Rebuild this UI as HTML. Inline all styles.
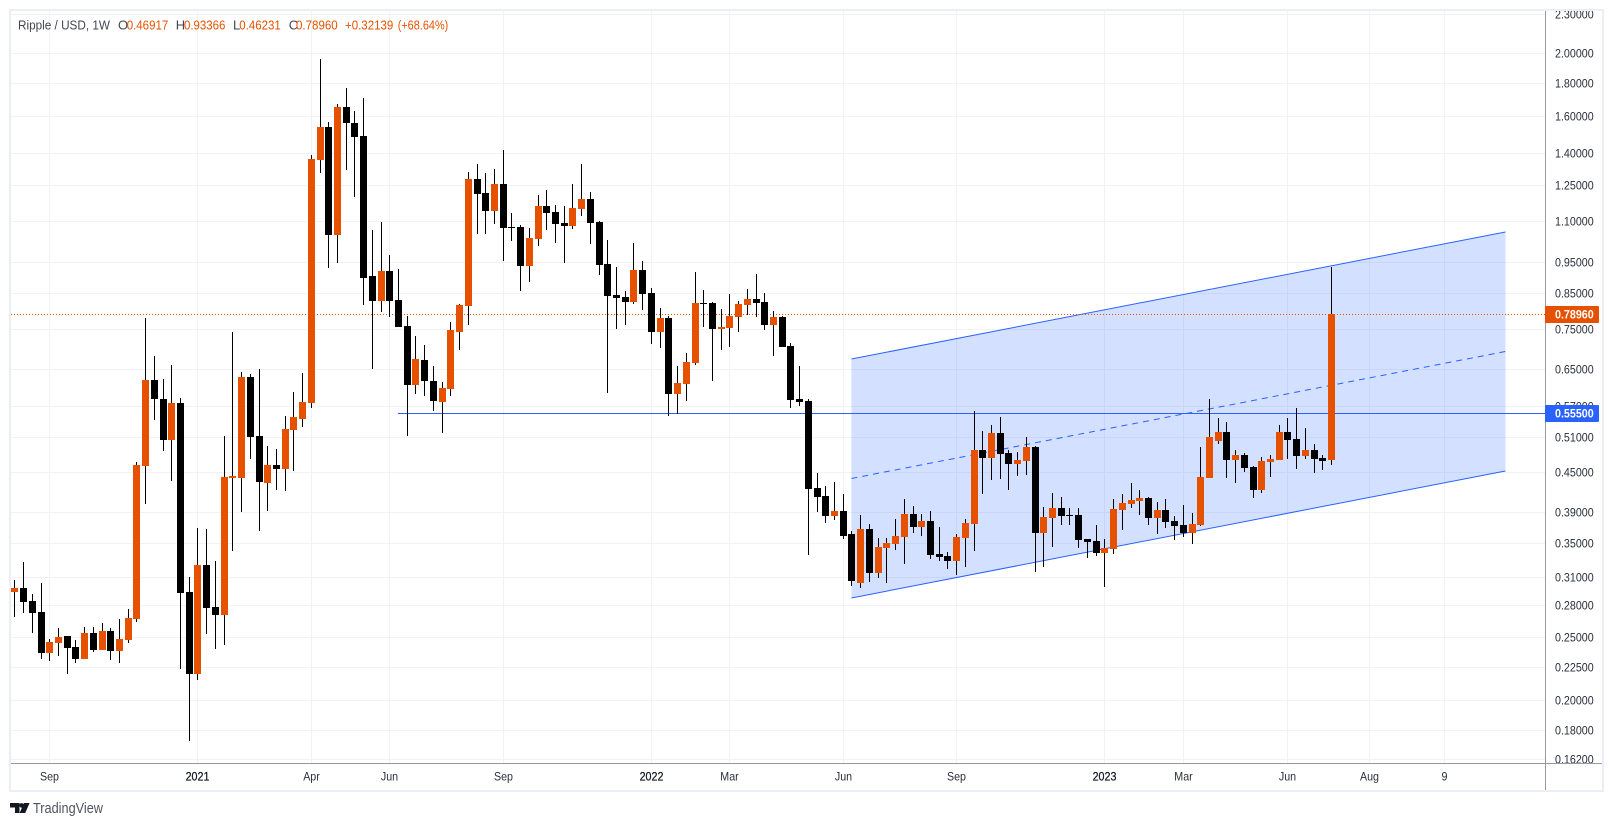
<!DOCTYPE html>
<html lang="en">
<head>
<meta charset="utf-8">
<title>Ripple / USD, 1W</title>
<style>
html,body{margin:0;padding:0;background:#fff;width:1613px;height:826px;overflow:hidden}
svg{display:block;font-family:"Liberation Sans",sans-serif}
</style>
</head>
<body>
<svg id="chart" width="1613" height="826" viewBox="0 0 1613 826" xmlns="http://www.w3.org/2000/svg">
  <defs>
    <clipPath id="plot-clip"><rect x="11" y="11" width="1534" height="752"/></clipPath>
    <clipPath id="axis-clip"><rect x="1546" y="11" width="56" height="752"/></clipPath>
  </defs>
  <rect x="10" y="10" width="1593" height="781" fill="#fff" stroke="#eceef5" stroke-width="2"/>
  <g id="grid" clip-path="url(#plot-clip)" shape-rendering="crispEdges"></g>
  <g id="drawings" clip-path="url(#plot-clip)"></g>
  <g id="candles" clip-path="url(#plot-clip)" shape-rendering="crispEdges"></g>
  <g id="price-labels" clip-path="url(#axis-clip)"></g>
  <g id="time-labels"></g>
  <rect x="1545" y="11" width="1" height="779" fill="#9598a1" shape-rendering="crispEdges"/>
  <rect x="11" y="763" width="1591" height="1" fill="#9598a1" shape-rendering="crispEdges"/>
  <g id="badges"></g>

  <g font-size="13">
    <text x="18" y="29.5" fill="#434651" textLength="92" lengthAdjust="spacingAndGlyphs">Ripple / USD, 1W</text>
    <text x="118" y="29.5" fill="#434651">O</text>
    <text x="126.7" y="29.5" fill="#e65100" textLength="41.6" lengthAdjust="spacingAndGlyphs">0.46917</text>
    <text x="175.7" y="29.5" fill="#434651">H</text>
    <text x="184" y="29.5" fill="#e65100" textLength="41.4" lengthAdjust="spacingAndGlyphs">0.93366</text>
    <text x="233" y="29.5" fill="#434651">L</text>
    <text x="239.3" y="29.5" fill="#e65100" textLength="41.4" lengthAdjust="spacingAndGlyphs">0.46231</text>
    <text x="288.7" y="29.5" fill="#434651">C</text>
    <text x="296" y="29.5" fill="#e65100" textLength="41.7" lengthAdjust="spacingAndGlyphs">0.78960</text>
    <text x="345" y="29.5" fill="#e65100" textLength="48.3" lengthAdjust="spacingAndGlyphs">+0.32139</text>
    <text x="397.7" y="29.5" fill="#e65100" textLength="50.6" lengthAdjust="spacingAndGlyphs">(+68.64%)</text>
  </g>

  <g>
    <path fill="#131722" d="M10 803h9.5v10h-4.5v-5.5h-5z M24 803h5.6l-4.4 10h-5.6z"/>
    <circle cx="21.6" cy="805.4" r="2.3" fill="#131722"/>
    <text x="33" y="813" font-size="15" fill="#50535e" textLength="70" lengthAdjust="spacingAndGlyphs">TradingView</text>
  </g>
</svg>

<script>
const opens = [
  .2939,.2981,.2846,.2737,.2366,.2451,.2513,.2417,.2315,.2540,
  .2391,.2558,.2383,.2477,.2670,.4600,.6247,.5839,.5046,.5756,
  .2939,.2195,.3235,.2786,.2708,.4408,.4408,.6315,.5118,.4331,
  .4617,.4551,.5229,.5438,.5756,1.3667,1.5370,1.0466,1.6504,1.5591,
  1.4885,.9045,.8275,.9207,.8305,.7571,.6137,.6708,.6225,.5777,
  .6051,.7411,.8129,1.2773,1.2153,1.1399,1.2547,1.0769,1.0769,.9373,
  1.0318,1.1603,1.1359,1.0923,1.0807,1.1481,1.1896,1.0962,.9439,.8453,
  .8393,.8246,.9240,.8513,.7411,.7789,.5944,.6159,.6637,.8217,
  .8217,.7491,.7518,.7817,.8158,.8334,.8246,.7598,.7817,.7051,
  .5839,.5797,.4254,.4135,.3851,.3920,.3612,.3035,.3677,.3144,
  .3437,.3486,.3574,.3878,.3703,.3783,.3364,.3340,.3281,.3561,
  .3743,.4870,.4733,.5173,.4818,.4633,.4683,.4922,.3625,.3824,
  .3962,.3865,.3865,.3549,.3523,.3376,.3425,.3934,.4019,.4062,
  .4106,.3824,.3934,.3783,.3729,.3625,.3729,.4408,.5028,.5192,
  .4700,.4784,.4584,.4224,.4666,.4700,.5192,.5064,.4767,.4870,
  .4733,.46917
];
const highs = [
  .3067,.3270,.2918,.3035,.2486,.2585,.2513,.2477,.2594,.2594,
  .2632,.2585,.2670,.2766,.4666,.7789,.6804,.6270,.6590,.5860,
  .3100,.3690,.3677,.3281,.5118,.7411,.6428,.6383,.6497,.4939,
  .4887,.5496,.5986,.6405,1.3912,1.9577,1.5646,1.6681,1.7658,1.6271,
  1.7041,1.0654,1.0962,.9746,.9273,.7845,.7307,.7076,.6567,.6203,
  .7679,.8187,1.3095,1.3473,1.3049,1.3236,1.4162,1.1319,1.0845,1.0731,
  1.2067,1.2283,1.1644,1.1603,1.2547,1.3473,1.2196,1.1001,1.0281,.9340,
  .8574,1.0172,.9541,.8666,.8072,.7845,.6567,.6877,.9174,.8605,
  .8246,.8043,.8483,.8275,.8635,.9110,.8513,.7985,.7845,.7127,
  .6567,.5839,.4487,.4285,.4346,.4165,.3651,.3865,.3743,.3561,
  .3561,.3810,.4091,.3991,.3878,.3920,.3703,.3388,.3612,.3810,
  .5595,.5210,.5323,.5477,.4870,.4835,.5100,.4939,.3977,.4180,
  .4121,.3962,.3962,.3549,.3729,.3549,.4091,.4165,.4331,.4224,
  .4121,.4048,.4091,.3851,.4005,.3892,.4922,.5839,.5457,.5380,
  .4870,.4818,.4600,.4750,.4784,.5323,.5457,.5655,.5267,.4974,
  .4784,.93366
];
const lows = [
  .2689,.2727,.2540,.2315,.2299,.2341,.2195,.2283,.2315,.2374,
  .2391,.2307,.2283,.2451,.2641,.4019,.5418,.4853,.4361,.2234,
  .1729,.2148,.2531,.2400,.2434,.3400,.3906,.4717,.3651,.3920,
  .4224,.4209,.4519,.5285,.5655,1.3049,.9306,.9473,1.3189,1.1982,
  .8158,.6497,.7957,.7817,.7544,.5118,.5944,.5902,.5595,.5173,
  .5902,.6951,.7598,1.0503,1.0503,1.0884,.9541,1.0245,.8574,.8854,
  1.0064,1.0654,1.0172,.9473,1.0693,1.1200,1.0136,.9077,.5965,.7491,
  .7598,.8187,.8014,.7101,.7001,.5496,.5535,.5797,.6590,.7544,
  .6225,.6951,.7026,.7411,.7873,.7817,.7464,.6804,.7026,.5655,
  .5695,.3352,.3906,.3756,.3796,.3549,.3002,.2981,.3045,.3089,
  .3035,.3412,.3247,.3625,.3587,.3305,.3281,.3189,.3122,.3212,
  .3400,.4165,.4377,.4393,.4224,.4440,.4455,.3156,.3212,.3449,
  .3729,.3729,.3437,.3317,.3340,.2992,.3364,.3664,.3962,.3865,
  .3729,.3612,.3690,.3536,.3574,.3486,.3716,.4408,.4974,.4408,
  .4331,.4503,.4106,.4180,.4424,.4700,.4717,.4551,.4717,.4487,
  .4535,.46231
];
const closes = [
  .2981,.2836,.2727,.2366,.2460,.2504,.2408,.2315,.2540,.2391,
  .2558,.2383,.2486,.2679,.4617,.6247,.5839,.5046,.5756,.2929,
  .2195,.3235,.2776,.2708,.4424,.4440,.6315,.5100,.4346,.4617,
  .4551,.5248,.5477,.5777,1.3716,1.5370,1.0466,1.6504,1.5591,1.4832,
  .8981,.8275,.9207,.8275,.7544,.6137,.6732,.6225,.5797,.6072,
  .7464,.8158,1.2773,1.2110,1.1399,1.2547,1.0731,1.0731,.9373,1.0355,
  1.1603,1.1319,1.0884,1.0807,1.1521,1.1896,1.0923,.9406,.8423,.8364,
  .8246,.9240,.8483,.7411,.7789,.5944,.6181,.6661,.8217,.8187,
  .7491,.7544,.7845,.8187,.8334,.8217,.7598,.7817,.7026,.5818,
  .5777,.4239,.4121,.3851,.3920,.3587,.3056,.3677,.3144,.3449,
  .3499,.3587,.3878,.3703,.3783,.3352,.3329,.3281,.3574,.3756,
  .4870,.4733,.5173,.4801,.4633,.4700,.4922,.3625,.3837,.3962,
  .3851,.3851,.3536,.3511,.3376,.3437,.3948,.4033,.4076,.4106,
  .3824,.3934,.3769,.3716,.3625,.3743,.4424,.5100,.5192,.4700,
  .4784,.4567,.4224,.4683,.4717,.5192,.5046,.4767,.4870,.4717,
  .4682,.78960
];
const priceTicks = [2.3,2.0,1.8,1.6,1.4,1.25,1.1,0.95,0.85,0.75,0.65,0.57,0.51,0.45,0.39,0.35,0.31,0.28,0.25,0.225,0.2,0.18,0.162];
const timeTickLabels = ['Sep','2021','Apr','Jun','Sep','2022','Mar','Jun','Sep','2023','Mar','Jun','Aug','9'];
const timeTickBars = [4,21,34,43,56,73,82,95,108,125,134,146,155.3,164];
const channelBars = [96,171];
const channelUpper = [0.6732,1.0578];
const channelLower = [0.2876,0.4519];
const levelBar = 44;
const levelPrice = 0.555;
const lastPrice = 0.7896;

const NS = 'http://www.w3.org/2000/svg';
const UP = '#e65100';
const DOWN = '#000000';
const BLUE = '#2962ff';
const TEXT_SQUEEZE = 0.89;

function yScale(p){ return 53 + 281 * Math.log(2 / p); }
function xScale(i){ return 14.35 + 8.72 * i; }
function make(tag, parent, attrs){
  const el = document.createElementNS(NS, tag);
  for (const k in attrs) el.setAttribute(k, attrs[k]);
  parent.appendChild(el);
  return el;
}
function squeeze(el){
  el.setAttribute('textLength', (el.getComputedTextLength() * TEXT_SQUEEZE).toFixed(1));
  el.setAttribute('lengthAdjust', 'spacingAndGlyphs');
}

const gridG = document.getElementById('grid');
const priceG = document.getElementById('price-labels');
const timeG = document.getElementById('time-labels');
const drawG = document.getElementById('drawings');
const candleG = document.getElementById('candles');
const badgeG = document.getElementById('badges');

priceTicks.forEach(function(p){
  const y = Math.round(yScale(p));
  const line = make('rect', gridG, {x:11, y:y, width:1534, height:1, fill:'#f1f2f6'});
  
  
  const t = make('text', priceG, {x:1555, y:y + 4.5, 'font-size':12, fill:'#2a2e39', textLength:38.7, lengthAdjust:'spacingAndGlyphs'});
  t.textContent = p.toFixed(5);
  
  
});

timeTickBars.forEach(function(b, k){
  const x = Math.round(xScale(b));
  const line = make('rect', gridG, {x:x, y:11, width:1, height:752, fill:'#f1f2f6'});
  
  
  const isYear = /^\d{4}$/.test(timeTickLabels[k]);
  const t = make('text', timeG, {x:x + 0.5, y:780.5, 'font-size':12, fill: isYear ? '#131722' : '#2a2e39', 'text-anchor':'middle', stroke: isYear ? '#131722' : 'none', 'stroke-width': isYear ? 0.25 : 0});
  t.textContent = timeTickLabels[k];
  
  
  squeeze(t);
});

const cx0 = xScale(channelBars[0]), cx1 = xScale(channelBars[1]);
const uy0 = yScale(channelUpper[0]), uy1 = yScale(channelUpper[1]);
const ly0 = yScale(channelLower[0]), ly1 = yScale(channelLower[1]);

const channelFill = make('polygon', drawG, {
  points: cx0+','+uy0+' '+cx1+','+uy1+' '+cx1+','+ly1+' '+cx0+','+ly0,
  fill: BLUE, 'fill-opacity': 0.2
});



const channelTop = make('line', drawG, {x1:cx0, y1:uy0, x2:cx1, y2:uy1, stroke:BLUE, 'stroke-width':1});



const channelBottom = make('line', drawG, {x1:cx0, y1:ly0, x2:cx1, y2:ly1, stroke:BLUE, 'stroke-width':1});



const channelMid = make('line', drawG, {x1:cx0, y1:(uy0+ly0)/2, x2:cx1, y2:(uy1+ly1)/2, stroke:BLUE, 'stroke-width':1, 'stroke-dasharray':'6 5'});



const lastY = Math.floor(yScale(lastPrice)) + 0.5;
const lastLine = make('line', drawG, {x1:11, y1:lastY, x2:1545, y2:lastY, stroke:UP, 'stroke-width':1, 'stroke-dasharray':'1 2', 'shape-rendering':'crispEdges'});



const levelY = Math.floor(yScale(levelPrice)) + 0.5;
const levelLine = make('line', drawG, {x1:Math.round(xScale(levelBar)), y1:levelY, x2:1545, y2:levelY, stroke:BLUE, 'stroke-width':1, 'shape-rendering':'crispEdges'});



opens.forEach(function(o, i){
  const c = closes[i];
  const px = Math.round(xScale(i));
  const up = c >= o;
  const group = make('g', candleG, {});
  
  
  const hy = Math.round(yScale(highs[i]));
  const ly = Math.round(yScale(lows[i]));
  const wick = make('rect', group, {x:px, y:hy, width:1, height:Math.max(1, ly - hy), fill:DOWN});
  
  
  const top = Math.round(yScale(Math.max(o, c)));
  const bottom = Math.round(yScale(Math.min(o, c)));
  const body = make('rect', group, {x:px - 3, y:top, width:7, height:Math.max(1, bottom - top), fill: up ? UP : DOWN});
  
  
});

function badge(price, color, name){
  const y = yScale(price);
  const g = make('g', badgeG, {});
  
  
  const r = make('rect', g, {x:1545, y:Math.round(y) - 8, width:54, height:17, fill:color, rx:1});
  
  
  const t = make('text', g, {x:1555, y:Math.round(y) + 4.5, 'font-size':12, 'font-weight':'bold', fill:'#ffffff', textLength:38.7, lengthAdjust:'spacingAndGlyphs'});
  t.textContent = price.toFixed(5);
  
  
}
badge(lastPrice, UP, 'last-price-badge');
badge(levelPrice, BLUE, 'level-price-badge');
</script>
</body>
</html>
